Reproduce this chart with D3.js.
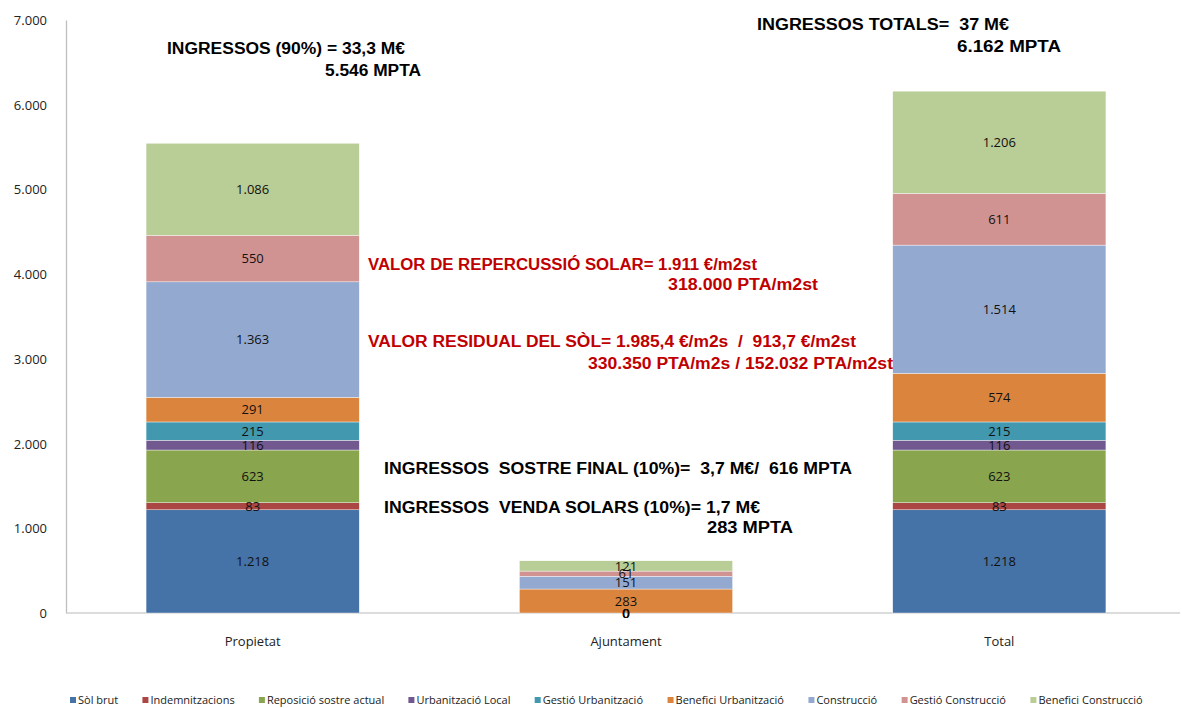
<!DOCTYPE html>
<html><head><meta charset="utf-8">
<script src="https://cdn.jsdelivr.net/npm/d3@7"></script>
<style>
body{margin:0;background:#fff;}
svg{display:block;font-family:"Liberation Sans",Arial,sans-serif;}
</style></head>
<body>
<svg id="chart" width="1182" height="708"></svg>
<script>
const categories = ["Propietat", "Ajuntament", "Total"];
const seriesNames = ["Sòl brut","Indemnitzacions","Reposició sostre actual","Urbanització Local","Gestió Urbanització","Benefici Urbanització","Construcció","Gestió Construcció","Benefici Construcció"];
const solBrut        = [1218, 0, 1218];
const indemnitzacions= [83, 0, 83];
const reposicio      = [623, 0, 623];
const urbanitzacio   = [116, 0, 116];
const gestioUrb      = [215, 0, 215];
const beneficiUrb    = [291, 283, 574];
const construccio    = [1363, 151, 1514];
const gestioConstr   = [550, 61, 611];
const beneficiConstr = [1086, 121, 1206];
const seriesValues = [solBrut, indemnitzacions, reposicio, urbanitzacio, gestioUrb, beneficiUrb, construccio, gestioConstr, beneficiConstr];
const yTicks = [0,1000,2000,3000,4000,5000,6000,7000];
const annotationTexts = [
  "INGRESSOS (90%) = 33,3 M€",
  "5.546 MPTA",
  "INGRESSOS TOTALS=  37 M€",
  "6.162 MPTA",
  "VALOR DE REPERCUSSIÓ SOLAR= 1.911 €/m2st",
  "318.000 PTA/m2st",
  "VALOR RESIDUAL DEL SÒL= 1.985,4 €/m2s  /  913,7 €/m2st",
  "330.350 PTA/m2s / 152.032 PTA/m2st",
  "INGRESSOS  SOSTRE FINAL (10%)=  3,7 M€/  616 MPTA",
  "INGRESSOS  VENDA SOLARS (10%)= 1,7 M€",
  "283 MPTA"
];

// styling / layout (not data)
const colors = ["#4572A7","#AA4643","#89A54E","#71588F","#4198AF","#DB843D","#93A9CF","#D19392","#B9CD96"];
const annotationLayout = [
  {x:167, y:54, w:238, red:false},
  {x:325, y:76, w:96, red:false},
  {x:757, y:30, w:252, red:false},
  {x:957, y:52, w:104, red:false},
  {x:368, y:270, w:389, red:true},
  {x:668, y:290, w:150, red:true},
  {x:368, y:347, w:488, red:true},
  {x:588, y:369, w:305, red:true},
  {x:384, y:474, w:468, red:false},
  {x:384, y:513, w:376, red:false},
  {x:707, y:533, w:86, red:false}
];

const loc = d3.formatLocale({decimal:",", thousands:".", grouping:[3], currency:["","€"]});
const fmt = loc.format(",.0f");

const svg = d3.select("#chart");
const x = d3.scaleBand().domain(categories).range([66, 1186]).paddingInner(0.429).paddingOuter(0.2145);
const y = d3.scaleLinear().domain([0, 7000]).range([613, 20]);

const table = categories.map((c, i) => {
  const o = {cat: c};
  seriesNames.forEach((s, j) => o[s] = seriesValues[j][i]);
  return o;
});
const stacked = d3.stack().keys(seriesNames)(table);

// axes
const yAxis = d3.axisLeft(y).tickValues(yTicks).tickFormat(d => fmt(d)).tickSize(0).tickPadding(19);
const gy = svg.append("g").attr("transform", "translate(66,0)").call(yAxis);
gy.select(".domain").attr("stroke", "#BFBFBF").attr("stroke-width", 1.3);
gy.selectAll("text").attr("font-size", 13).attr("fill", "#222").attr("font-family", "'Open Sans',sans-serif").attr("dy", "0.35em");

const xAxis = d3.axisBottom(x).tickSize(0).tickPadding(24);
const gx = svg.append("g").attr("transform", "translate(0,613)").call(xAxis);
gx.select(".domain").attr("stroke", "#D0D0D0").attr("stroke-width", 1.3).attr("d", "M66,0H1180");
gx.selectAll("text").attr("font-size", 13).attr("fill", "#222").attr("font-family", "'Open Sans',sans-serif");

// bars
const layers = svg.append("g").selectAll("g").data(stacked).join("g").attr("fill", (d, i) => colors[i]);
layers.selectAll("rect").data(d => d).join("rect")
  .attr("x", d => x(d.data.cat))
  .attr("width", x.bandwidth())
  .attr("y", d => y(d[1]))
  .attr("height", d => y(d[0]) - y(d[1]))
  .attr("stroke", "#fff").attr("stroke-width", 0.4);

// data labels
const labG = svg.append("g").attr("font-family", "'Open Sans',sans-serif").attr("font-size", 13).attr("fill", "#111").attr("text-anchor", "middle");
stacked.forEach(layer => {
  layer.forEach(d => {
    labG.append("text")
      .attr("x", x(d.data.cat) + x.bandwidth() / 2)
      .attr("y", y((d[0] + d[1]) / 2))
      .attr("dy", "0.36em")
      .text(fmt(d[1] - d[0]));
  });
});

// annotations
svg.append("g").selectAll("text").data(annotationTexts).join("text")
  .attr("x", (d, i) => annotationLayout[i].x)
  .attr("y", (d, i) => annotationLayout[i].y)
  .attr("fill", (d, i) => annotationLayout[i].red ? "#C00000" : "#000")
  .attr("font-weight", "bold").attr("font-size", 16)
  .attr("font-family", "'Liberation Sans',Arial,sans-serif")
  .attr("textLength", (d, i) => annotationLayout[i].w)
  .attr("lengthAdjust", "spacingAndGlyphs")
  .style("white-space", "pre")
  .text(d => d);

// legend
const leg = svg.append("g").attr("font-family", "'Open Sans',sans-serif").attr("font-size", 11).attr("fill", "#222");
const items = leg.selectAll("g").data(seriesNames).join("g");
items.append("rect").attr("width", 6).attr("height", 6).attr("y", 697).attr("fill", (d, i) => colors[i]);
items.append("text").attr("x", 8).attr("y", 704).text(d => d);
let widths = [];
items.each(function () { widths.push(this.getBBox().width); });
const totalW = d3.sum(widths);
const startX = 70, endX = 1143;
const gap = (endX - startX - totalW) / (seriesNames.length - 1);
let cx = startX;
items.each(function (d, i) {
  d3.select(this).attr("transform", `translate(${cx},0)`);
  cx += widths[i] + gap;
});
</script>
</body></html>
